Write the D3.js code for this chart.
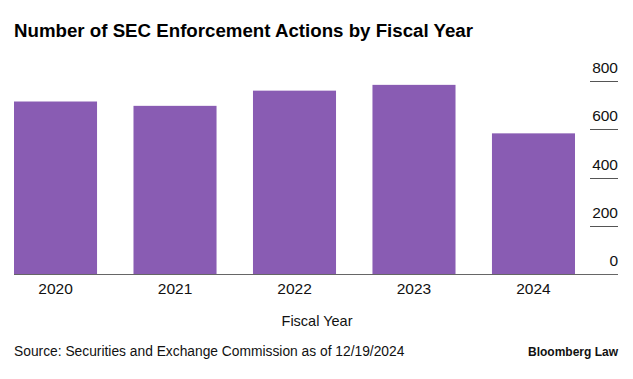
<!DOCTYPE html>
<html>
<head>
<meta charset="utf-8">
<script src="https://cdn.jsdelivr.net/npm/d3@7"></script>
<style>
  body { margin: 0; background: #fff; }
  svg { display: block; font-family: "Liberation Sans", Arial, sans-serif; }
</style>
</head>
<body>
<div id="chart"></div>
<script>
// data
const years = ['2020', '2021', '2022', '2023', '2024'];
const actions = [715, 697, 760, 784, 583];
const yTicks = [0, 200, 400, 600, 800];

const width = 633, height = 379;

const svg = d3.select('#chart').append('svg')
    .attr('width', width)
    .attr('height', height);

const x = d3.scaleBand()
    .domain(years)
    .range([14, 575])
    .paddingInner(0.305)
    .paddingOuter(0);

const y = d3.scaleLinear()
    .domain([0, 800])
    .range([274, 81]);

// title
svg.append('text')
    .attr('x', 14)
    .attr('y', 37)
    .attr('font-size', 18.7)
    .attr('font-weight', 'bold')
    .attr('fill', '#000')
    .text('Number of SEC Enforcement Actions by Fiscal Year');

// bars
svg.append('g')
    .selectAll('rect')
    .data(years)
    .join('rect')
    .attr('x', d => x(d))
    .attr('y', (d, i) => y(actions[i]))
    .attr('width', x.bandwidth())
    .attr('height', (d, i) => y(0) - y(actions[i]))
    .attr('fill', '#895cb3');

// right axis: short tick lines with labels sitting above them
const yAxis = svg.append('g');
yAxis.selectAll('line')
    .data(yTicks.filter(d => d > 0))
    .join('line')
    .attr('x1', 590)
    .attr('x2', 618)
    .attr('y1', d => Math.round(y(d)) + 0.5)
    .attr('y2', d => Math.round(y(d)) + 0.5)
    .attr('stroke', '#555')
    .attr('stroke-width', 1);
yAxis.selectAll('text')
    .data(yTicks)
    .join('text')
    .attr('x', 618)
    .attr('y', d => y(d) - 8)
    .attr('text-anchor', 'end')
    .attr('font-size', 15.5)
    .attr('fill', '#111')
    .text(d => d);

// baseline
svg.append('line')
    .attr('x1', 14)
    .attr('x2', 618)
    .attr('y1', y(0) + 0.5)
    .attr('y2', y(0) + 0.5)
    .attr('stroke', '#666')
    .attr('stroke-width', 1.2);

// x axis labels
const xAxis = svg.append('g')
    .attr('transform', `translate(0,${y(0)})`)
    .call(d3.axisBottom(x).tickSize(0).tickPadding(8));
xAxis.select('.domain').remove();
xAxis.selectAll('text')
    .attr('font-size', 15.5)
    .attr('font-family', '"Liberation Sans", Arial, sans-serif')
    .attr('fill', '#111')
    .attr('dy', '0.71em')
    .attr('y', 9);

svg.append('text')
    .attr('x', 317)
    .attr('y', 326)
    .attr('text-anchor', 'middle')
    .attr('font-size', 14.5)
    .attr('fill', '#111')
    .text('Fiscal Year');

// footer
svg.append('text')
    .attr('x', 14)
    .attr('y', 356)
    .attr('font-size', 13.8)
    .attr('fill', '#111')
    .text('Source: Securities and Exchange Commission as of 12/19/2024');

svg.append('text')
    .attr('x', 618)
    .attr('y', 356)
    .attr('text-anchor', 'end')
    .attr('font-size', 12)
    .attr('font-weight', 'bold')
    .attr('fill', '#111')
    .text('Bloomberg Law');
</script>
</body>
</html>
